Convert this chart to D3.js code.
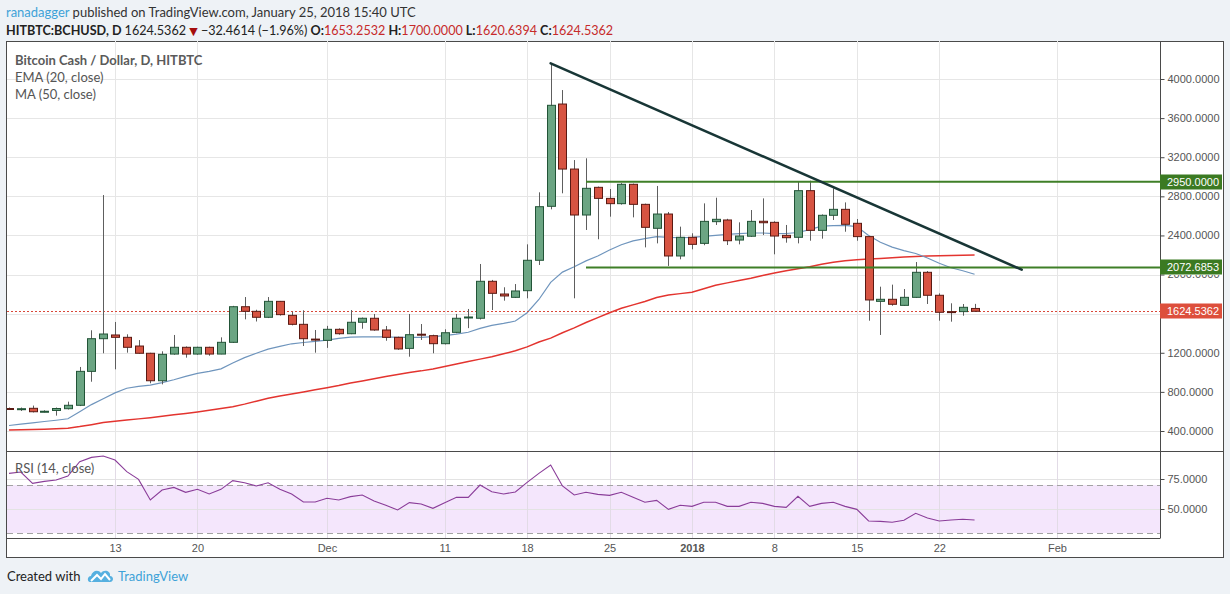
<!DOCTYPE html>
<html>
<head>
<meta charset="utf-8">
<script src="https://cdn.jsdelivr.net/npm/d3@7"></script>
<style>
  body { margin: 0; background: #eef2f6; }
  svg { display: block; }
  .hdr { font-family: Lato, "Open Sans", sans-serif; }
  .axis text { font-family: "Liberation Sans", Arial, sans-serif; font-size: 11px; fill: #555; }
  .axis .domain { display: none; }
</style>
</head>
<body>
<svg id="chart"></svg>
<script>
const svgWidth = 1230;
const svgHeight = 594;

// frame + panes (pixel layout)
const frame = { left: 6, top: 41, right: 1223, bottom: 557 };
const paneLeft = 7;
const paneRight = 1160;
const mainBottom = 451;
const rsiBottom = 538;

// ---- data (BCHUSD daily, Nov 4 2017 .. Jan 25 2018) ----
const firstDay = new Date(Date.UTC(2017, 10, 4));

const opens = [630, 618, 632, 596, 610, 628, 663, 1010, 1344, 1382, 1358, 1269, 1195, 914, 1187, 1256, 1187, 1256, 1187, 1307,
  1671, 1624, 1563, 1726, 1583, 1491, 1340, 1327, 1440, 1395, 1512, 1553, 1433, 1358, 1245, 1390, 1375, 1293, 1409, 1560,
  1553, 1931, 1801, 1767, 1835, 2146, 2698, 3744, 3079, 2609, 2892, 2779, 2725, 2923, 2718, 2473, 2619, 2190, 2381, 2319,
  2541, 2558, 2353, 2392, 2545, 2534, 2401, 2381, 2858, 2452, 2606, 2667, 2524, 2388, 1726, 1747, 1685, 1767, 2023, 1788,
  1621, 1621, 1653.2532];
const highs = [640, 640, 660, 612, 640, 700, 1055, 1430, 2813, 1515, 1389, 1330, 1200, 1215, 1382, 1265, 1262, 1262, 1358, 1680,
  1770, 1640, 1770, 1730, 1620, 1634, 1433, 1475, 1450, 1637, 1560, 1597, 1474, 1365, 1597, 1494, 1385, 1440, 1597, 1648,
  2108, 1945, 1870, 1903, 2309, 2841, 4160, 3887, 3171, 3189, 2900, 2875, 2935, 2930, 2725, 2906, 2640, 2490, 2422, 2728,
  2786, 2570, 2534, 2660, 2779, 2545, 2507, 2949, 2960, 2615, 2882, 2738, 2568, 2395, 1876, 1897, 1852, 2128, 2036, 1808,
  1706, 1699, 1700];
const lows = [615, 605, 590, 590, 557, 620, 655, 904, 1195, 1031, 1201, 1190, 888, 877, 1180, 1150, 1180, 1170, 1185, 1300,
  1542, 1520, 1555, 1580, 1480, 1269, 1201, 1250, 1385, 1390, 1446, 1425, 1323, 1230, 1160, 1331, 1195, 1285, 1400, 1452,
  1540, 1637, 1733, 1760, 1757, 2098, 2667, 2831, 1757, 2456, 2361, 2592, 2715, 2585, 2278, 2319, 2088, 2156, 2258, 2300,
  2507, 2302, 2309, 2385, 2404, 2207, 2326, 2319, 2346, 2367, 2558, 2438, 2346, 1528, 1382, 1681, 1680, 1760, 1699, 1528,
  1518, 1579, 1620.6394];
const closes = [622, 628, 597, 602, 630, 663, 1010, 1344, 1392, 1358, 1256, 1195, 914, 1184, 1256, 1187, 1256, 1187, 1307, 1671,
  1624, 1563, 1726, 1590, 1491, 1344, 1331, 1440, 1395, 1512, 1553, 1433, 1358, 1239, 1385, 1380, 1293, 1405, 1553, 1566,
  1931, 1808, 1781, 1832, 2146, 2694, 3731, 3079, 2609, 2882, 2779, 2725, 2923, 2718, 2483, 2619, 2190, 2381, 2309, 2544,
  2565, 2346, 2394, 2544, 2530, 2394, 2377, 2858, 2452, 2606, 2667, 2514, 2388, 1740, 1747, 1696, 1767, 2023, 1788, 1614,
  1614, 1665, 1624.5362];

const ema20 = [456, 470, 484, 497, 510, 525, 597, 670, 730, 790, 837, 856, 870, 895, 924, 958, 990, 1010, 1035, 1095,
  1150, 1195, 1238, 1265, 1292, 1305, 1316, 1330, 1347, 1360, 1363, 1364, 1362, 1358, 1358, 1358, 1365, 1375, 1390, 1410,
  1450, 1480, 1500, 1525, 1610, 1745, 1920, 2025, 2080, 2140, 2190, 2251, 2305, 2345, 2368, 2387, 2380, 2378, 2380, 2390,
  2400, 2410, 2418, 2425, 2425, 2418, 2420, 2430, 2460, 2495, 2500, 2503, 2490, 2400, 2330, 2280, 2245, 2215, 2170, 2115,
  2070, 2039, 2003];
const ma50 = [410, 413, 416, 419, 423, 428, 445, 465, 487, 500, 512, 524, 536, 550, 565, 580, 595, 612, 630, 649,
  675, 705, 735, 758, 778, 800, 822, 843, 865, 890, 912, 935, 958, 978, 998, 1015, 1035, 1060, 1085, 1110,
  1135, 1160, 1190, 1220, 1260, 1310, 1350, 1405, 1455, 1510, 1560, 1610, 1655, 1690, 1725, 1765, 1790, 1805, 1820, 1855,
  1890, 1915, 1940, 1962, 1990, 2015, 2040, 2060, 2080, 2105, 2125, 2140, 2152, 2160, 2165, 2172, 2180, 2185, 2190, 2193,
  2196, 2198, 2200];
const rsi14 = [79.7, 80.8, 71.4, 73, 74.2, 77.5, 89.4, 93, 94.2, 90.8, 81.1, 74.7, 57.5, 65.8, 68, 63.9, 66.4, 62.5, 66.4, 73.6,
  71.9, 69.2, 71.9, 66.4, 62.5, 55.8, 55.8, 58.9, 57.5, 60.3, 61.7, 56.7, 53.1, 49.2, 55.3, 54.2, 50.6, 55.3, 59.7, 59.7,
  70, 64.4, 62.5, 64.2, 72.2, 79.7, 86.7, 69.2, 61.7, 63.9, 62.2, 61.4, 63.9, 59.7, 55.6, 57.2, 49.7, 53.1, 52.2, 55.6,
  55.6, 52.2, 52.2, 55.6, 54.7, 52.2, 51.4, 60.6, 52.2, 54.7, 55.6, 52.2, 49.7, 40, 39.7, 38.9, 40.6, 46.4, 42.5, 40,
  40.8, 41.4, 40.8];

// drawings
const trendLine = [[new Date(Date.UTC(2017, 11, 20)), 4160], [new Date(Date.UTC(2018, 0, 29)), 2050]];
const levelStart = new Date(Date.UTC(2017, 11, 23));
const levels = [2950, 2072.6853];
const lastPrice = 1624.5362;

// ticks (1600 label sits fully under the last-price tag, so only its grid line shows)
const priceTicks = [400, 800, 1200, 1600, 2000, 2400, 2800, 3200, 3600, 4000];
const priceLabels = [400, 800, 1200, 2400, 2800, 3200, 3600, 4000];
const rsiTicks = [50, 75];
const rsiBand = [30, 70];
const timeTicks = [[2017, 10, 13], [2017, 10, 20], [2017, 11, 1], [2017, 11, 11], [2017, 11, 18], [2017, 11, 25],
  [2018, 0, 1], [2018, 0, 8], [2018, 0, 15], [2018, 0, 22], [2018, 1, 1]].map(a => new Date(Date.UTC(a[0], a[1], a[2])));
const timeLabels = ["13", "20", "Dec", "11", "18", "25", "2018", "8", "15", "22", "Feb"];

const days = d3.utcDay.range(firstDay, d3.utcDay.offset(firstDay, opens.length));
const candles = days.map((d, i) => ({ date: d, o: opens[i], h: highs[i], l: lows[i], c: closes[i] }));

// ---- scales ----
const x = d3.scaleUtc()
  .domain([new Date(Date.UTC(2017, 10, 13)), new Date(Date.UTC(2018, 1, 1))])
  .range([115, 1057]);
const y = d3.scaleLinear().domain([400, 4000]).range([431, 79]);
const yRsi = d3.scaleLinear().domain([50, 75]).range([509, 479]);
const fmt = d3.format(".4f");

const svg = d3.select("#chart")
  .attr("width", svgWidth)
  .attr("height", svgHeight);

svg.append("rect").attr("width", svgWidth).attr("height", svgHeight).attr("fill", "#eef2f6");

const defs = svg.append("defs");
defs.append("clipPath").attr("id", "clipMain")
  .append("rect").attr("x", paneLeft).attr("y", frame.top + 1)
  .attr("width", paneRight - paneLeft).attr("height", mainBottom - frame.top - 1);
defs.append("clipPath").attr("id", "clipRsi")
  .append("rect").attr("x", paneLeft).attr("y", mainBottom + 1)
  .attr("width", paneRight - paneLeft).attr("height", rsiBottom - mainBottom - 1);

// white chart frame
svg.append("rect")
  .attr("x", frame.left + 0.5).attr("y", frame.top + 0.5)
  .attr("width", frame.right - frame.left).attr("height", frame.bottom - frame.top)
  .attr("fill", "#fff").attr("stroke", "#4a4a4a");

// ---- grid ----
const grid = svg.append("g").attr("stroke", "#e6e6e6").attr("stroke-width", 1);
grid.selectAll(".vg").data(timeTicks).enter().append("line")
  .attr("x1", d => Math.round(x(d)) + 0.5).attr("x2", d => Math.round(x(d)) + 0.5)
  .attr("y1", frame.top).attr("y2", rsiBottom);
grid.selectAll(".hg").data(priceTicks).enter().append("line")
  .attr("x1", paneLeft).attr("x2", paneRight)
  .attr("y1", d => Math.round(y(d)) + 0.5).attr("y2", d => Math.round(y(d)) + 0.5);

// ---- main pane ----
const main = svg.append("g").attr("clip-path", "url(#clipMain)");

const lineFrom = arr => d3.line()
  .x((d, i) => x(days[i]))
  .y(d => y(d))(arr);

main.append("path").attr("d", lineFrom(ma50))
  .attr("fill", "none").attr("stroke", "#e3342f").attr("stroke-width", 1.5);
main.append("path").attr("d", lineFrom(ema20))
  .attr("fill", "none").attr("stroke", "#6f95bd").attr("stroke-width", 1.2);

// last price dotted line
main.append("line")
  .attr("x1", paneLeft).attr("x2", paneRight)
  .attr("y1", Math.round(y(lastPrice)) + 0.5).attr("y2", Math.round(y(lastPrice)) + 0.5)
  .attr("stroke", "#d9493a").attr("stroke-dasharray", "2,2");

// candles
const candleGroup = main.append("g");
candleGroup.selectAll(".wick").data(candles).enter().append("line")
  .attr("x1", d => Math.round(x(d.date)) + 0.5).attr("x2", d => Math.round(x(d.date)) + 0.5)
  .attr("y1", d => y(d.h)).attr("y2", d => y(d.l))
  .attr("stroke", "#5e5e5e");
candleGroup.selectAll(".body").data(candles).enter().append("rect")
  .attr("x", d => Math.round(x(d.date)) - 3.5)
  .attr("width", 8)
  .attr("y", d => y(Math.max(d.o, d.c)))
  .attr("height", d => Math.max(1, Math.abs(y(d.o) - y(d.c))))
  .attr("fill", d => d.c >= d.o ? "#6ba583" : "#d75442")
  .attr("stroke", d => d.c >= d.o ? "#225437" : "#5b1a13")
  .attr("stroke-width", 1);

// horizontal levels
main.selectAll(".lvl").data(levels).enter().append("line")
  .attr("x1", x(levelStart)).attr("x2", paneRight)
  .attr("y1", d => y(d)).attr("y2", d => y(d))
  .attr("stroke", "#3f7f27").attr("stroke-width", 2);

// trend line
main.append("line")
  .attr("x1", x(trendLine[0][0])).attr("y1", y(trendLine[0][1]))
  .attr("x2", x(trendLine[1][0])).attr("y2", y(trendLine[1][1]))
  .attr("stroke", "#183636").attr("stroke-width", 2.6).attr("stroke-linecap", "round");

// ---- RSI pane ----
const rsiG = svg.append("g").attr("clip-path", "url(#clipRsi)");
rsiG.append("rect")
  .attr("x", paneLeft).attr("width", paneRight - paneLeft)
  .attr("y", yRsi(rsiBand[1])).attr("height", yRsi(rsiBand[0]) - yRsi(rsiBand[1]))
  .attr("fill", "#f4e6fc");
rsiG.selectAll(".rg").data(rsiTicks).enter().append("line")
  .attr("x1", paneLeft).attr("x2", paneRight)
  .attr("y1", d => Math.round(yRsi(d)) + 0.5).attr("y2", d => Math.round(yRsi(d)) + 0.5)
  .attr("stroke", "#e3e3e3");
rsiG.selectAll(".vg").data(timeTicks).enter().append("line")
  .attr("x1", d => Math.round(x(d)) + 0.5).attr("x2", d => Math.round(x(d)) + 0.5)
  .attr("y1", mainBottom).attr("y2", rsiBottom)
  .attr("stroke", "#e2dbe6");
rsiG.selectAll(".band").data(rsiBand).enter().append("line")
  .attr("x1", paneLeft).attr("x2", paneRight)
  .attr("y1", d => Math.round(yRsi(d)) + 0.5).attr("y2", d => Math.round(yRsi(d)) + 0.5)
  .attr("stroke", "#a3a3a3").attr("stroke-dasharray", "6,4");
rsiG.append("path")
  .attr("d", d3.line().x((d, i) => x(days[i])).y(d => yRsi(d))(rsi14))
  .attr("fill", "none").attr("stroke", "#8a3d99").attr("stroke-width", 1.1);

// ---- pane borders ----
const borders = svg.append("g").attr("stroke", "#4a4a4a").attr("stroke-width", 1);
borders.append("line").attr("x1", paneRight + 0.5).attr("x2", paneRight + 0.5)
  .attr("y1", frame.top).attr("y2", rsiBottom + 0.5);
borders.append("line").attr("x1", frame.left).attr("x2", frame.right)
  .attr("y1", mainBottom + 0.5).attr("y2", mainBottom + 0.5);
borders.append("line").attr("x1", frame.left).attr("x2", paneRight)
  .attr("y1", rsiBottom + 0.5).attr("y2", rsiBottom + 0.5);

// ---- axes ----
const priceAxis = svg.append("g").attr("class", "axis")
  .attr("transform", `translate(${paneRight + 0.5},0)`)
  .call(d3.axisRight(y).tickValues(priceTicks).tickFormat(d => priceLabels.includes(d) ? fmt(d) : "")
    .tickSize(4).tickPadding(3));
priceAxis.selectAll("line").attr("stroke", "#4a4a4a");

// the 2000 label peeks out below the 2072 tag only
defs.append("clipPath").attr("id", "clip2000")
  .append("rect").attr("x", paneRight).attr("y", Math.round(y(levels[1])) + 8)
  .attr("width", 70).attr("height", 20);
svg.append("text").attr("class", "axis")
  .attr("x", paneRight + 7.5).attr("y", y(2000)).attr("dy", "0.32em")
  .attr("clip-path", "url(#clip2000)")
  .style("font-family", '"Liberation Sans", Arial, sans-serif').style("font-size", "11px")
  .attr("fill", "#555").text(fmt(2000));

const rsiAxis = svg.append("g").attr("class", "axis")
  .attr("transform", `translate(${paneRight + 0.5},0)`)
  .call(d3.axisRight(yRsi).tickValues(rsiTicks).tickFormat(fmt).tickSize(4).tickPadding(3));
rsiAxis.selectAll("line").attr("stroke", "#4a4a4a");

const timeAxis = svg.append("g").attr("class", "axis")
  .attr("transform", `translate(0,${rsiBottom})`)
  .call(d3.axisBottom(x).tickValues(timeTicks).tickFormat((d, i) => timeLabels[i]).tickSize(0).tickPadding(6));
timeAxis.selectAll("text")
  .style("font-weight", (d, i) => timeLabels[i] === "2018" ? "bold" : "normal");

// price labels on axis
const tags = [
  { v: levels[0], fill: "#3b7a22" },
  { v: levels[1], fill: "#3b7a22" },
  { v: lastPrice, fill: "#dd4f3c" }
];
const tagG = svg.append("g").selectAll("g").data(tags).enter().append("g")
  .attr("transform", d => `translate(${paneRight},${Math.round(y(d.v))})`);
tagG.append("rect").attr("x", 0).attr("y", -7.5).attr("width", 62).attr("height", 15)
  .attr("fill", d => d.fill);
tagG.append("text").attr("x", 7).attr("dy", "0.35em")
  .style("font-family", '"Liberation Sans", Arial, sans-serif').style("font-size", "11px")
  .attr("fill", "#fff").text(d => fmt(d.v));

// ---- legends ----
const legend = svg.append("g").attr("class", "hdr").attr("fill", "#555").style("font-size", "13px");
legend.append("text").attr("x", 15).attr("y", 65).style("font-weight", "bold")
  .attr("fill", "#5a5a5a").text("Bitcoin Cash / Dollar, D, HITBTC");
legend.append("text").attr("x", 15).attr("y", 82).text("EMA (20, close)");
legend.append("text").attr("x", 15).attr("y", 99).text("MA (50, close)");
legend.append("text").attr("x", 15).attr("y", 473).text("RSI (14, close)");

// ---- header ----
const h1 = svg.append("text").attr("class", "hdr").attr("x", 6).attr("y", 17)
  .style("font-size", "13px").attr("fill", "#333");
h1.append("tspan").attr("fill", "#3ea2d8").text("ranadagger");
h1.append("tspan").text(" published on TradingView.com, January 25, 2018 15:40 UTC");

const h2 = svg.append("text").attr("class", "hdr").attr("x", 6).attr("y", 35)
  .style("font-size", "12.6px").attr("fill", "#222");
h2.append("tspan").style("font-weight", "bold").text("HITBTC:BCHUSD, D ");
h2.append("tspan").text("1624.5362 ");
h2.append("tspan").attr("fill", "#a50d0d").style("font-family", "DejaVu Sans").style("font-size", "11px").text("▼");
h2.append("tspan").text(" \u221232.4614 (\u22121.96%) ");
const ohlc = [["O:", "1653.2532"], ["H:", "1700.0000"], ["L:", "1620.6394"], ["C:", "1624.5362"]];
ohlc.forEach((p, i) => {
  h2.append("tspan").style("font-weight", "bold").text((i ? " " : "") + p[0]);
  h2.append("tspan").attr("fill", "#c62a2a").text(p[1]);
});

// ---- footer ----
svg.append("text").attr("class", "hdr").attr("x", 7).attr("y", 581)
  .style("font-size", "13px").attr("fill", "#222").text("Created with");
const logo = svg.append("g").attr("transform", "translate(88,568)");
logo.append("path")
  .attr("d", "M2,14 C-1,14 -1,8 3,8 C4,3 10,1 13,5 C16,1 23,3 22,8 C26,8 26,14 22,14 Z")
  .attr("fill", "#56b0e0");
logo.append("path").attr("d", "M3,13 L9,7 L13,11 L17,6 L22,12")
  .attr("fill", "none").attr("stroke", "#fff").attr("stroke-width", 2);
svg.append("text").attr("class", "hdr").attr("x", 118).attr("y", 581)
  .style("font-size", "13px").attr("fill", "#3ea2d8").text("TradingView");
</script>
</body>
</html>
